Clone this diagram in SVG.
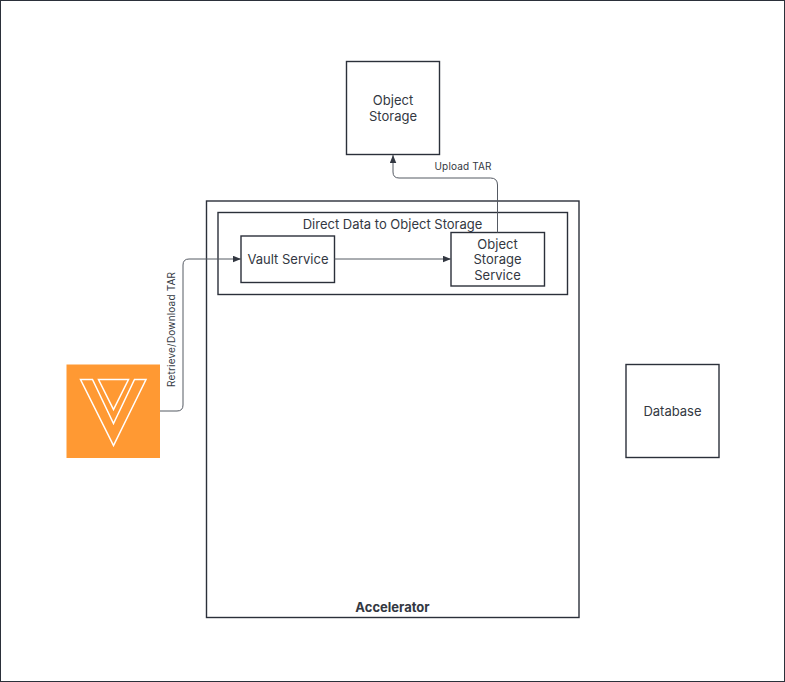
<svg xmlns="http://www.w3.org/2000/svg" width="785" height="682" viewBox="0 0 785 682">
<style>
text{font-family:Inter,"Liberation Sans",sans-serif;fill:#333842;text-anchor:middle}
.n{font-size:13px}
.s{font-size:10px}
.b{fill:#fff;stroke:#2b303a;stroke-width:1.4}
.c{fill:none;stroke:#555a63;stroke-width:1}
</style>
<defs><marker id="a" markerUnits="userSpaceOnUse" markerWidth="9" markerHeight="7" refX="8" refY="3.500" orient="auto"><path d="M0 .25L8 3.500L0 6.750Z" fill="#333842"/></marker></defs>
<rect x=".5" y=".5" width="784" height="681" fill="#fff" stroke="#2b303a"/>
<g id="accelerator"><rect class="b" x="206.500" y="201" width="372.500" height="416.500"/><text x="392.500" y="611.500" style="font-weight:700;font-size:13px">Accelerator</text></g>
<g id="direct-data"><rect class="b" x="218" y="212.500" width="349.500" height="82"/><text class="n" x="392.500" y="228.500">Direct Data to Object Storage</text></g>
<g id="vault-service"><rect class="b" x="241" y="236" width="93.500" height="46.500"/><text class="n" x="288" y="264">Vault Service</text></g>
<g id="object-storage-service"><rect class="b" x="451" y="232.500" width="93.500" height="53.500"/><text class="n"><tspan x="497.500" y="248.500">Object</tspan><tspan x="497.500" y="264">Storage</tspan><tspan x="497.500" y="280">Service</tspan></text></g>
<g id="object-storage"><rect class="b" x="346.500" y="61.500" width="93" height="93"/><text class="n"><tspan x="393" y="104.500">Object</tspan><tspan x="393" y="120.500">Storage</tspan></text></g>
<g id="database"><rect class="b" x="626" y="364.500" width="93" height="93"/><text class="n" x="672.500" y="415.500">Database</text></g>
<g id="vault-logo"><rect x="66.500" y="364.500" width="93.500" height="93.500" fill="#ff9933"/><path d="M80.500 379.500H92.500L113.500 423.500L134.500 379.500H146L113.500 445.500ZM98.500 379.500H128.500L113.500 409.500Z" fill="none" stroke="#fff" stroke-width="1.500"/></g>
<g id="connectors">
<path class="c" marker-end="url(#a)" d="M160 411H177Q183 411 183 405V265Q183 259 189 259H241"/>
<path class="c" marker-end="url(#a)" d="M334.500 259H451"/>
<path class="c" marker-end="url(#a)" d="M497.500 232.500V185Q497.500 178 490.500 178H399Q393 178 393 172V155"/>
<text class="s" transform="translate(175 329.500) rotate(-90)" textLength="115">Retrieve/Download TAR</text>
<text class="s" x="463" y="170" textLength="57">Upload TAR</text>
</g>
</svg>
